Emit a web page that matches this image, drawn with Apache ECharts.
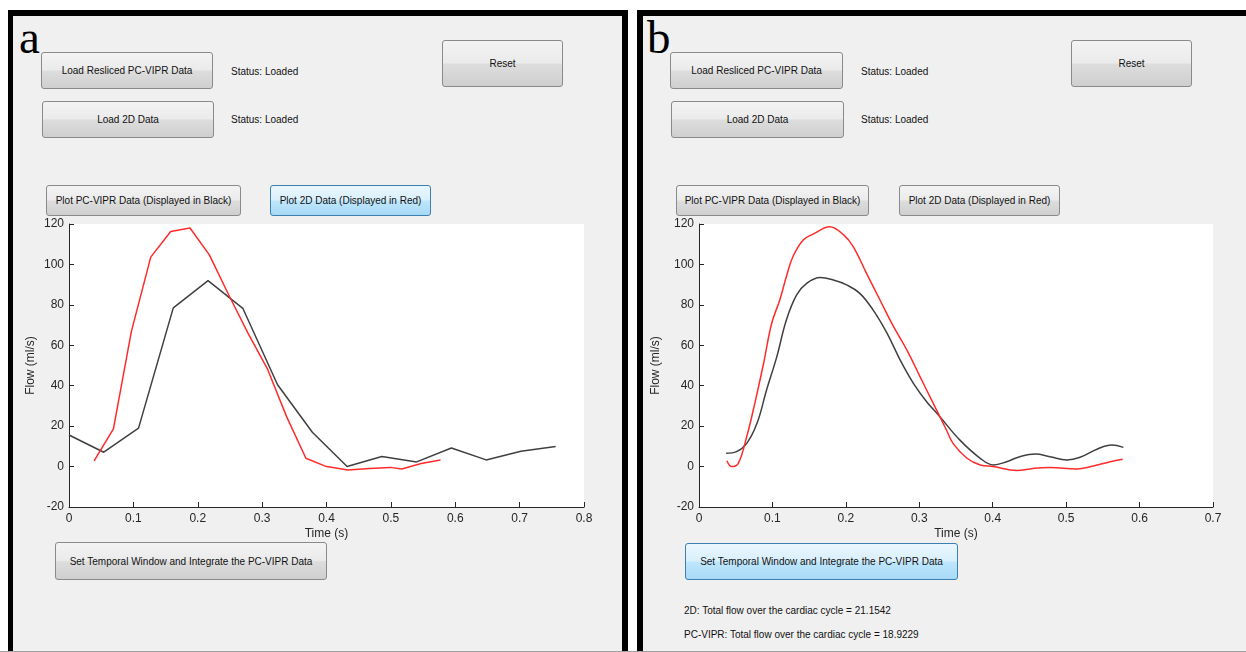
<!DOCTYPE html>
<html>
<head>
<meta charset="utf-8">
<script src="https://cdn.jsdelivr.net/npm/echarts@6/dist/echarts.min.js"></script>
<style>
  html, body { margin:0; padding:0; background:#fff; }
  #root { position:relative; width:1246px; height:652px; overflow:hidden; background:#fff; font-family:"Liberation Sans", Arial, sans-serif; }
  .panel { position:absolute; box-sizing:border-box; background:#f0f0f0; border-style:solid; border-color:#000; }
  .btn { position:absolute; box-sizing:border-box; border:1px solid #8a8a8a; border-radius:3px;
         background:linear-gradient(#f3f3f3 0%, #ebebeb 48%, #dddddd 52%, #cfcfcf 100%);
         font-size:10px; color:#111; display:flex; align-items:center; justify-content:center; white-space:nowrap; }
  .btn.hi { border-color:#3c7fb1; background:linear-gradient(#eaf6fd 0%, #d9f0fc 48%, #bee6fd 52%, #a7d9f5 100%); }
  .txt { position:absolute; font-size:10px; color:#111; white-space:nowrap; transform:translateY(-50%); }
  .lab { position:absolute; font-family:"Liberation Serif", "Times New Roman", serif; font-size:47px; line-height:47px; color:#000; }
  #chart { position:absolute; left:0; top:0; width:1246px; height:652px; }
</style>
</head>
<body>
<div id="root">
  <div class="panel" style="left:8px;top:10px;width:620px;height:660px;border-width:6px 6px 0 5px;"></div>
  <div class="panel" style="left:637px;top:10px;width:640px;height:660px;border-width:6px 0 0 6px;"></div>
  <div style="position:absolute;left:0;top:651px;width:1246px;height:1px;background:#a0a0a0;"></div>

  <div class="lab" style="left:19px;top:14px;">a</div>
  <div class="lab" style="left:647px;top:14px;">b</div>

  <!-- panel a controls -->
  <div class="btn" style="left:41px;top:52px;width:172px;height:37px;">Load Resliced PC-VIPR Data</div>
  <div class="btn" style="left:42px;top:101px;width:172px;height:37px;">Load 2D Data</div>
  <div class="txt" style="left:231px;top:71px;">Status: Loaded</div>
  <div class="txt" style="left:231px;top:119px;">Status: Loaded</div>
  <div class="btn" style="left:442px;top:40px;width:121px;height:47px;">Reset</div>
  <div class="btn" style="left:46px;top:185px;width:195px;height:31px;">Plot PC-VIPR Data (Displayed in Black)</div>
  <div class="btn hi" style="left:270px;top:185px;width:161px;height:31px;">Plot 2D Data (Displayed in Red)</div>
  <div class="btn" style="left:55px;top:542px;width:272px;height:38px;">Set Temporal Window and Integrate the PC-VIPR Data</div>

  <!-- panel b controls -->
  <div class="btn" style="left:670px;top:52px;width:173px;height:37px;">Load Resliced PC-VIPR Data</div>
  <div class="btn" style="left:671px;top:101px;width:173px;height:37px;">Load 2D Data</div>
  <div class="txt" style="left:861px;top:71px;">Status: Loaded</div>
  <div class="txt" style="left:861px;top:119px;">Status: Loaded</div>
  <div class="btn" style="left:1071px;top:40px;width:121px;height:47px;">Reset</div>
  <div class="btn" style="left:676px;top:185px;width:193px;height:31px;">Plot PC-VIPR Data (Displayed in Black)</div>
  <div class="btn" style="left:899px;top:185px;width:161px;height:31px;">Plot 2D Data (Displayed in Red)</div>
  <div class="btn hi" style="left:685px;top:543px;width:273px;height:37px;">Set Temporal Window and Integrate the PC-VIPR Data</div>
  <div class="txt" style="left:684px;top:610px;">2D: Total flow over the cardiac cycle = 21.1542</div>
  <div class="txt" style="left:684px;top:634px;">PC-VIPR: Total flow over the cardiac cycle = 18.9229</div>

  <div id="chart"></div>
</div>
<script>
// ---- Panel a: raw (unsmoothed) curves ----
const timeA_vipr = [0, 0.054, 0.108, 0.162, 0.216, 0.27, 0.324, 0.378, 0.432, 0.486, 0.54, 0.594, 0.648, 0.702, 0.756];
const flowA_vipr = [15.6, 7.1, 19, 78.5, 92, 78.3, 40.5, 17, 0, 5, 2.3, 9.2, 3.3, 7.6, 9.9];
const timeA_2d = [0.039, 0.069, 0.097, 0.127, 0.158, 0.188, 0.218, 0.248, 0.278, 0.308, 0.338, 0.368, 0.398, 0.433, 0.467, 0.499, 0.517, 0.547, 0.577];
const flowA_2d = [2.8, 18.6, 67, 103.6, 116.3, 118, 104.7, 85, 66, 48.5, 24.7, 4.1, 0.2, -1.7, -0.9, -0.4, -1.2, 1.5, 3.3];

// ---- Panel b: smoothed curves ----
const timeB_vipr = [0.037, 0.051, 0.065, 0.079, 0.092, 0.106, 0.119, 0.133, 0.147, 0.165, 0.183, 0.201, 0.219, 0.237, 0.256, 0.274, 0.292, 0.31, 0.328, 0.355, 0.383, 0.401, 0.419, 0.437, 0.458, 0.478, 0.501, 0.519, 0.542, 0.562, 0.578];
const flowB_vipr = [6.6, 7.4, 11.5, 21.4, 37.9, 54.4, 72.5, 84.9, 90.7, 93.5, 92.3, 89.9, 85.7, 77.5, 66, 52.7, 41.2, 32.1, 24.7, 13.2, 4.1, 0.8, 2.4, 4.9, 6.2, 4.9, 3.3, 4.6, 8.6, 10.7, 9.5];
const timeB_2d = [0.038, 0.0445, 0.0535, 0.065, 0.076, 0.088, 0.099, 0.11, 0.119, 0.128, 0.142, 0.156, 0.178, 0.197, 0.21, 0.228, 0.2465, 0.265, 0.283, 0.301, 0.319, 0.337, 0.346, 0.365, 0.383, 0.401, 0.433, 0.455, 0.478, 0.5145, 0.537, 0.56, 0.577];
const flowB_2d = [2.9, 0, 1.6, 14.8, 31.3, 51.1, 70.9, 82.4, 94, 103.9, 112.1, 115.1, 118.7, 114.6, 108.8, 95.7, 82.4, 69.2, 57.7, 44.5, 31.3, 18.1, 11.5, 4.1, 0.8, 0, -2, -0.9, -0.4, -1.2, 0.3, 2.4, 3.6];

// ---- Axis settings ----
const xMaxA = 0.8, xMaxB = 0.7, xStep = 0.1;
const yMin = -20, yMax = 120, yStep = 20;
const xName = 'Time (s)', yName = 'Flow (ml/s)';

const zip = (xs, ys) => xs.map((x, i) => [x, ys[i]]);
const FONT = '"Liberation Sans", Arial, sans-serif';
const AX = '#262626';

function xAxis(grid, max) {
  return {
    gridIndex: grid, type: 'value', min: 0, max: max, interval: xStep,
    name: xName, nameLocation: 'middle', nameGap: 21,
    nameTextStyle: { color: AX, fontSize: 12, fontFamily: FONT },
    axisLine: { onZero: false, lineStyle: { color: AX, width: 1 } },
    axisTick: { inside: true, length: 5, lineStyle: { color: AX } },
    axisLabel: { margin: 6, color: AX, fontSize: 12, fontFamily: FONT, formatter: v => String(+v.toFixed(1)) },
    splitLine: { show: false }
  };
}
function yAxis(grid, gap) {
  return {
    gridIndex: grid, type: 'value', min: yMin, max: yMax, interval: yStep,
    name: yName, nameLocation: 'middle', nameRotate: 90, nameGap: gap,
    nameTextStyle: { color: AX, fontSize: 12, fontFamily: FONT },
    axisLine: { onZero: false, lineStyle: { color: AX, width: 1 } },
    axisTick: { inside: true, length: 5, lineStyle: { color: AX } },
    axisLabel: { margin: 5, color: AX, fontSize: 12, fontFamily: FONT },
    splitLine: { show: false }
  };
}
function line(xi, data, color, smooth) {
  return {
    type: 'line', xAxisIndex: xi, yAxisIndex: xi, data: data, smooth: smooth,
    showSymbol: false, symbol: 'none',
    lineStyle: { color: color, width: 1.5 }, itemStyle: { color: color },
    animation: false, silent: true
  };
}

const chart = echarts.init(document.getElementById('chart'), null, { renderer: 'canvas' });
chart.setOption({
  backgroundColor: 'transparent',
  animation: false,
  grid: [
    { left: 69, top: 224, right: 662, bottom: 145, show: true, backgroundColor: '#ffffff', borderWidth: 0 },
    { left: 699, top: 224, right: 33, bottom: 145, show: true, backgroundColor: '#ffffff', borderWidth: 0 }
  ],
  xAxis: [xAxis(0, xMaxA), xAxis(1, xMaxB)],
  yAxis: [yAxis(0, 32), yAxis(1, 37)],
  series: [
    line(0, zip(timeA_vipr, flowA_vipr), '#404040', false),
    line(0, zip(timeA_2d, flowA_2d), '#ff2b2b', false),
    line(1, zip(timeB_vipr, flowB_vipr), '#404040', 0.4),
    line(1, zip(timeB_2d, flowB_2d), '#ff2b2b', 0.4)
  ]
});
</script>
</body>
</html>
